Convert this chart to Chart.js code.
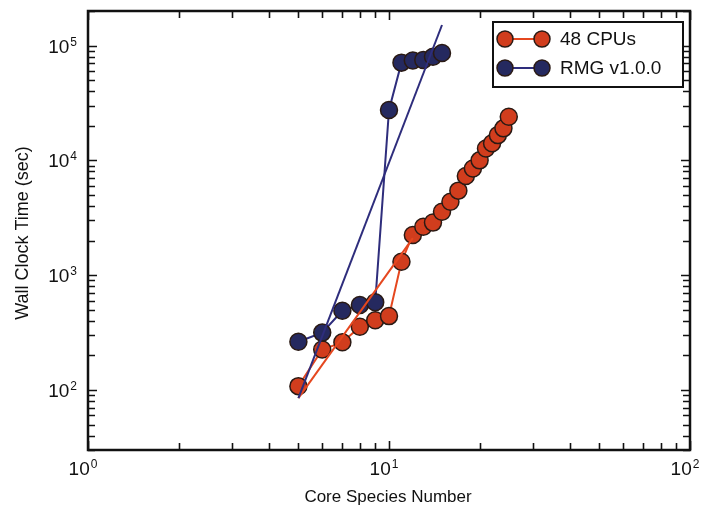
<!DOCTYPE html>
<html>
<head>
<meta charset="utf-8">
<script src="https://cdn.jsdelivr.net/npm/chart.js@4/dist/chart.umd.min.js"></script>
<style>
  html, body { margin: 0; padding: 0; background: #fff; }
  canvas { display: block; }
</style>
</head>
<body>
<canvas id="grafico" width="708" height="510"></canvas>
<script>
// Tempo de execução x número de espécies no núcleo
const especies48 = [5, 6, 7, 8, 9, 10, 11, 12, 13, 14, 15, 16, 17, 18, 19, 20, 21, 22, 23, 24, 25];
const tempos48 = [108, 225, 260, 355, 405, 440, 1310, 2240, 2640, 2870, 3570, 4360, 5450, 7300, 8500, 10000, 12700, 14100, 16600, 19000, 24000];

const especiesRmg = [5, 6, 7, 8, 9, 10, 11, 12, 13, 14, 15];
const temposRmg = [263, 316, 490, 550, 580, 27500, 71000, 74000, 75000, 80000, 86000];

// retas de ajuste (lei de potência)
const ajusteEspecies48 = [5, 12];
const ajusteTempos48 = [85, 2100];
const ajusteEspeciesRmg = [5, 15];
const ajusteTemposRmg = [85, 151000];

const rotulos = ['48 CPUs', 'RMG v1.0.0'];
const expoentesX = [0, 1, 2];
const expoentesY = [2, 3, 4, 5];
const tituloX = 'Core Species Number';
const tituloY = 'Wall Clock Time (sec)';

const vermelho = '#d13d1d';
const linhaVermelha = '#e5471f';
const azul = '#25295f';
const linhaAzul = '#2e2d7c';
const contorno = '#2a1a14';
const fonte = '"Liberation Sans", Arial, Helvetica, sans-serif';

function pares(xs, ys) {
  return xs.map(function(x, i) { return { x: x, y: ys[i] }; });
}

// Moldura, marcas dos eixos, rótulos e legenda
const molduraPlugin = {
  id: 'moldura',
  afterDraw: function(chart) {
    const ctx = chart.ctx;
    const area = chart.chartArea;
    const sx = chart.scales.x;
    const sy = chart.scales.y;
    ctx.save();
    ctx.strokeStyle = '#111';
    ctx.fillStyle = '#111';

    // marcas do eixo x (em cima e em baixo)
    ctx.lineWidth = 1.6;
    for (let d = 0; d <= 2; d++) {
      for (let m = 1; m <= 9; m++) {
        const v = m * Math.pow(10, d);
        if (v < sx.min || v > sx.max) continue;
        const px = Math.round(sx.getPixelForValue(v)) + 0.5;
        const len = m === 1 ? 9 : 7;
        ctx.beginPath();
        ctx.moveTo(px, area.bottom);
        ctx.lineTo(px, area.bottom - len);
        ctx.moveTo(px, area.top);
        ctx.lineTo(px, area.top + len);
        ctx.stroke();
      }
    }
    // marcas do eixo y (esquerda e direita)
    for (let d = 1; d <= 5; d++) {
      for (let m = 1; m <= 9; m++) {
        const v = m * Math.pow(10, d);
        if (v < sy.min || v > sy.max) continue;
        const py = Math.round(sy.getPixelForValue(v)) + 0.5;
        const len = m === 1 ? 9 : 7;
        ctx.beginPath();
        ctx.moveTo(area.left, py);
        ctx.lineTo(area.left + len, py);
        ctx.moveTo(area.right, py);
        ctx.lineTo(area.right - len, py);
        ctx.stroke();
      }
    }

    // moldura
    ctx.lineWidth = 2.5;
    ctx.strokeRect(area.left, area.top, area.right - area.left, area.bottom - area.top);

    // rótulos 10^n
    function potencia(x, y, exp, alinhamento) {
      ctx.font = '19px ' + fonte;
      const wBase = ctx.measureText('10').width;
      ctx.font = '12px ' + fonte;
      const wExp = ctx.measureText(String(exp)).width;
      const total = wBase + wExp + 1;
      let x0 = alinhamento === 'right' ? x - total : x - total / 2;
      ctx.textAlign = 'left';
      ctx.textBaseline = 'alphabetic';
      ctx.font = '19px ' + fonte;
      ctx.fillText('10', x0, y);
      ctx.font = '12px ' + fonte;
      ctx.fillText(String(exp), x0 + wBase + 1, y - 7);
    }
    expoentesX.forEach(function(e) {
      potencia(sx.getPixelForValue(Math.pow(10, e)) - 5, area.bottom + 25, e, 'center');
    });
    expoentesY.forEach(function(e) {
      potencia(area.left - 11, sy.getPixelForValue(Math.pow(10, e)) + 7, e, 'right');
    });

    // títulos dos eixos
    ctx.textAlign = 'center';
    ctx.textBaseline = 'middle';
    ctx.font = '17px ' + fonte;
    ctx.fillText(tituloX, (area.left + area.right) / 2 - 1, 497);
    ctx.save();
    ctx.translate(23, 233);
    ctx.rotate(-Math.PI / 2);
    ctx.font = '18px ' + fonte;
    ctx.fillText(tituloY, 0, 0);
    ctx.restore();

    // legenda
    const lx = 493, ly = 22, lw = 190, lh = 65;
    ctx.fillStyle = '#fff';
    ctx.fillRect(lx, ly, lw, lh);
    ctx.lineWidth = 2;
    ctx.strokeStyle = '#111';
    ctx.strokeRect(lx, ly, lw, lh);
    const itens = [
      { y: 39, linha: linhaVermelha, cor: vermelho },
      { y: 68, linha: linhaAzul, cor: azul }
    ];
    itens.forEach(function(it, i) {
      ctx.strokeStyle = it.linha;
      ctx.lineWidth = 2;
      ctx.beginPath();
      ctx.moveTo(505, it.y);
      ctx.lineTo(542, it.y);
      ctx.stroke();
      [505, 542].forEach(function(cx) {
        ctx.beginPath();
        ctx.arc(cx, it.y, 8, 0, Math.PI * 2);
        ctx.fillStyle = it.cor;
        ctx.fill();
        ctx.lineWidth = 1.5;
        ctx.strokeStyle = contorno;
        ctx.stroke();
      });
      ctx.fillStyle = '#111';
      ctx.font = '19px ' + fonte;
      ctx.textAlign = 'left';
      ctx.textBaseline = 'middle';
      ctx.fillText(rotulos[i], 560, it.y + 1);
    });
    ctx.restore();
  }
};

const ctxGrafico = document.getElementById('grafico').getContext('2d');
const grafico = new Chart(ctxGrafico, {
  type: 'scatter',
  data: {
    datasets: [
      {
        label: 'ajuste RMG',
        data: pares(ajusteEspeciesRmg, ajusteTemposRmg),
        showLine: true,
        borderColor: linhaAzul,
        borderWidth: 2,
        pointRadius: 0,
        order: 0
      },
      {
        label: 'ajuste 48',
        data: pares(ajusteEspecies48, ajusteTempos48),
        showLine: true,
        borderColor: linhaVermelha,
        borderWidth: 2,
        pointRadius: 0,
        order: 1
      },
      {
        label: rotulos[1],
        data: pares(especiesRmg, temposRmg),
        showLine: true,
        borderColor: linhaAzul,
        borderWidth: 2,
        backgroundColor: azul,
        pointBackgroundColor: azul,
        pointBorderColor: contorno,
        pointBorderWidth: 1.5,
        pointRadius: 8.5,
        order: 2
      },
      {
        label: rotulos[0],
        data: pares(especies48, tempos48),
        showLine: true,
        borderColor: linhaVermelha,
        borderWidth: 2,
        backgroundColor: vermelho,
        pointBackgroundColor: vermelho,
        pointBorderColor: contorno,
        pointBorderWidth: 1.5,
        pointRadius: 8.5,
        order: 3
      }
    ]
  },
  options: {
    responsive: false,
    animation: false,
    layout: {
      padding: { left: 88, right: 18, top: 11, bottom: 60 }
    },
    plugins: {
      legend: { display: false },
      tooltip: { enabled: false }
    },
    scales: {
      x: { type: 'logarithmic', min: 1, max: 100, display: false },
      y: { type: 'logarithmic', min: 30, max: 200000, display: false }
    }
  },
  plugins: [molduraPlugin]
});
</script>
</body>
</html>
